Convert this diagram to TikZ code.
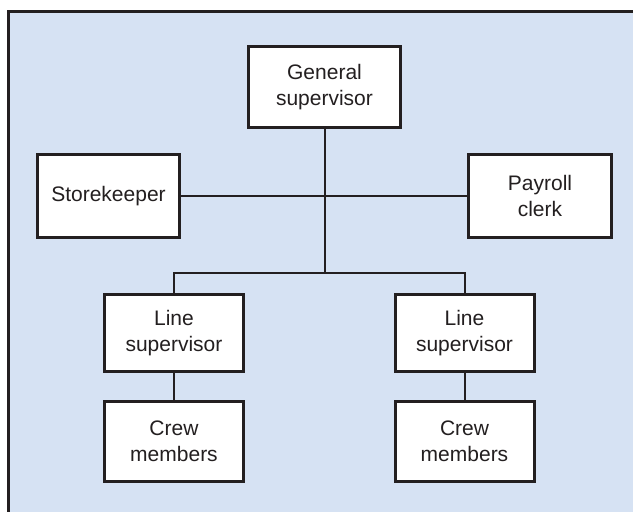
\documentclass[tikz,border=0pt]{standalone}
\usepackage{fontspec}
\setmainfont{Liberation Sans}
\definecolor{panel}{RGB}{214,226,243}
\definecolor{ink}{RGB}{35,31,32}
\begin{document}
\begin{tikzpicture}[x=1pt,y=-1pt,
  unit/.style={draw=ink, line width=3pt, fill=white, inner sep=0pt,
    align=center, text=ink, font=\fontsize{21}{26}\selectfont},
  link/.style={draw=ink, line width=2pt}]
\useasboundingbox (0,0) rectangle (633,512);
\clip (0,0) rectangle (633,512);
% panel background and frame
\fill[panel] (8.5,11.5) rectangle (640,520);
\draw[ink, line width=3pt] (8.5,520) -- (8.5,11.5) -- (640,11.5);

% positions
\node[unit, minimum width=152pt, minimum height=81pt] (gs) at (324.5,87) {General\\supervisor};
\node[unit, minimum width=142pt, minimum height=83pt] (sk) at (108.5,196) {Storekeeper};
\node[unit, minimum width=143pt, minimum height=83pt] (pc) at (540,196) {Payroll\\clerk};
\node[unit, minimum width=139pt, minimum height=77pt] (ls1) at (174,333) {Line\\supervisor};
\node[unit, minimum width=139pt, minimum height=77pt] (ls2) at (464.5,333) {Line\\supervisor};
\node[unit, minimum width=139pt, minimum height=80pt] (cm1) at (174,441) {Crew\\members};
\node[unit, minimum width=139pt, minimum height=80pt] (cm2) at (464.5,441) {Crew\\members};
\coordinate (j) at (324.5,273);

% connectors
\draw[link] (sk.east) -- (pc.west);
\draw[link] (gs.south) -- (j);
\draw[link] (ls1.north) |- (j) -| (ls2.north);
\draw[link] (ls1.south) -- (cm1.north);
\draw[link] (ls2.south) -- (cm2.north);
\end{tikzpicture}
\end{document}
